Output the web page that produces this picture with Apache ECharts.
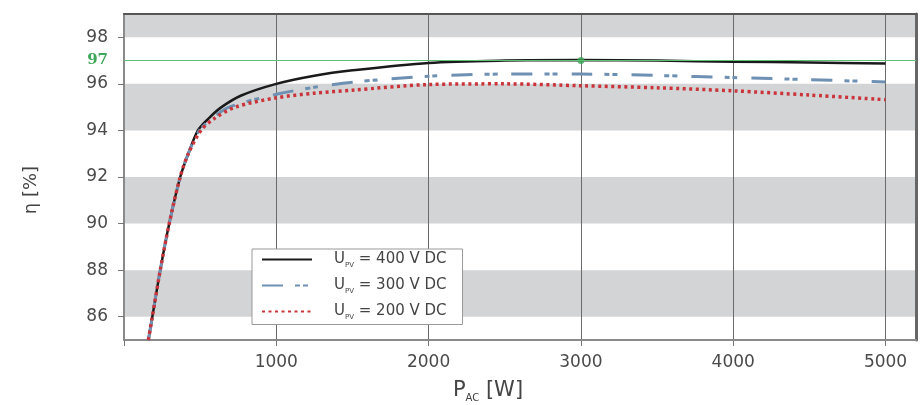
<!DOCTYPE html>
<html>
<head>
<meta charset="utf-8">
<script src="https://cdn.jsdelivr.net/npm/echarts@6/dist/echarts.min.js"></script>
<style>
html,body{margin:0;padding:0;background:#fff;}
#chart{width:924px;height:405px;}
</style>
</head>
<body>
<div id="chart"></div>
<script>
// ---- data ----
const voltages = ['400', '300', '200'];
const power400 = [160, 186, 238, 297, 369, 422, 485, 553, 640, 770, 1000, 1250, 1500, 2000, 2500, 3000, 3500, 4000, 4500, 5000];
const eta400   = [85, 86, 88, 90, 92, 93, 94, 94.5, 95, 95.5, 96, 96.35, 96.58, 96.9, 97.0, 97.02, 97.0, 96.95, 96.92, 96.87];
const power300 = [160, 186, 238, 297, 369, 422, 495, 575, 690, 1000, 1250, 1500, 2000, 2500, 3000, 3500, 4000, 4500, 5000];
const eta300   = [85, 86, 88, 90, 92, 93, 94, 94.5, 95, 95.55, 95.85, 96.07, 96.33, 96.42, 96.42, 96.36, 96.27, 96.18, 96.08];
const power200 = [160, 186, 238, 297, 369, 422, 505, 590, 730, 1000, 1250, 1500, 2000, 2500, 3000, 3500, 4000, 4500, 5000];
const eta200   = [85, 86, 88, 90, 92, 93, 94, 94.5, 95, 95.4, 95.6, 95.73, 95.97, 96.0, 95.92, 95.83, 95.7, 95.52, 95.32];
const grayBands = [[98, 99], [94, 96], [90, 92], [86, 88]];
const refLevel = 97;
const refPoint = [3000, 97];
const yLabels = [86, 88, 90, 92, 94, 96, 97, 98];
const yTicks = [86, 88, 90, 92, 94, 96, 98];
const xLabels = [1000, 2000, 3000, 4000, 5000];
const xTicks = [0, 1000, 2000, 3000, 4000, 5000];

function pairs(xs, ys) { return xs.map((x, i) => [x, ys[i]]); }

const FONT = 'DejaVu Sans';
const chart = echarts.init(document.getElementById('chart'));

const legendRich = {
  u: { fontFamily: FONT, fontSize: 15, color: '#444', lineHeight: 18, padding: [0, 0, 0, 17] },
  s: { fontFamily: FONT, fontSize: 7, color: '#444', lineHeight: 9, verticalAlign: 'bottom' },
  t: { fontFamily: FONT, fontSize: 15, color: '#444', lineHeight: 18 }
};

chart.setOption({
  animation: false,
  backgroundColor: '#fff',
  grid: { left: 124, top: 14, right: 8, bottom: 65, containLabel: false, outerBoundsMode: 'none' },
  legend: {
    orient: 'vertical',
    left: 252, top: 249,
    itemWidth: 50, itemHeight: 14, itemGap: 9.5,
    padding: [3, 16, 4, 9],
    backgroundColor: '#fff',
    borderColor: '#999', borderWidth: 1, borderRadius: 0,
    itemStyle: { opacity: 0 },
    data: voltages.map(v => 'U_PV = ' + v + ' V DC'),
    formatter: name => '{u|U}{s|PV}{t| = ' + name.split('= ')[1] + '}',
    textStyle: { rich: legendRich }
  },
  xAxis: [{
    type: 'value', min: 0, max: 5200, interval: 1000,
    z: 2,
    name: '{p|P}{s|AC}{p| [W]}',
    nameLocation: 'middle', nameGap: 39,
    nameTextStyle: {
      padding: [0, 64, 0, 0],
      rich: {
        p: { fontFamily: FONT, fontSize: 21, color: '#444', lineHeight: 24 },
        s: { fontFamily: FONT, fontSize: 10, color: '#444', lineHeight: 12, verticalAlign: 'bottom' }
      }
    },
    axisLine: { show: true, onZero: false, lineStyle: { color: '#8a8a8a', width: 2 } },
    axisTick: { show: true, length: 6, customValues: xTicks, lineStyle: { color: '#777', width: 1 } },
    axisLabel: { customValues: xLabels, margin: 14, fontFamily: FONT, fontSize: 17, color: '#4a4a4a', formatter: v => String(v) },
    splitLine: { show: true, lineStyle: { color: '#6a6a6a', width: 1 } }
  }, {
    type: 'value', min: 0, max: 5200, position: 'top', z: 2,
    axisLine: { show: true, onZero: false, lineStyle: { color: '#555', width: 2 } },
    axisTick: { show: false }, axisLabel: { show: false }, splitLine: { show: false }
  }],
  yAxis: [{
    type: 'value', min: 85, max: 99,
    z: 2,
    name: 'η [%]',
    nameLocation: 'middle', nameGap: 84, nameRotate: 90,
    nameTextStyle: { fontFamily: FONT, fontSize: 18, color: '#444', padding: [0, 26, 0, 0] },
    axisLine: { show: true, onZero: false, lineStyle: { color: '#8a8a8a', width: 2 } },
    axisTick: { show: true, length: 6, customValues: yTicks, lineStyle: { color: '#777', width: 1 } },
    axisLabel: {
      customValues: yLabels, margin: 16,
      formatter: v => v === refLevel ? '{g|' + v + '}' : '{n|' + v + '}',
      rich: {
        n: { fontFamily: FONT, fontSize: 17, color: '#4a4a4a' },
        g: { fontFamily: 'DejaVu Serif', fontSize: 15, fontWeight: 'bold', color: '#3ea65a' }
      }
    },
    splitLine: { show: false }
  }, {
    type: 'value', min: 85, max: 99, position: 'right', z: 2,
    axisLine: { show: true, onZero: false, lineStyle: { color: '#666', width: 3 } },
    axisTick: { show: false }, axisLabel: { show: false }, splitLine: { show: false }
  }],
  series: [
    {
      type: 'line', data: [], z: 1, silent: true,
      markArea: {
        silent: true,
        itemStyle: { color: '#d3d4d6' },
        data: grayBands.map(b => [{ yAxis: b[0] }, { yAxis: b[1] }])
      },
      markLine: {
        silent: true, symbol: 'none', label: { show: false },
        lineStyle: { color: '#5cbf73', width: 1, type: 'solid' },
        data: [{ yAxis: refLevel }]
      }
    },
    {
      name: 'U_PV = 400 V DC', type: 'line', z: 3, smooth: 0.3, showSymbol: false, symbol: 'none',
      data: pairs(power400, eta400),
      lineStyle: { color: '#1a1a1a', width: 2.5 }, itemStyle: { color: '#1a1a1a' }
    },
    {
      name: 'U_PV = 300 V DC', type: 'line', z: 3, smooth: 0.3, showSymbol: false, symbol: 'none',
      data: pairs(power300, eta300),
      lineStyle: { color: '#6d90b3', width: 3, type: [21, 12, 5, 3, 5, 14] }, itemStyle: { color: '#6d90b3' }
    },
    {
      name: 'U_PV = 200 V DC', type: 'line', z: 3, smooth: 0.3, showSymbol: false, symbol: 'none',
      data: pairs(power200, eta200),
      lineStyle: { color: '#c9353b', width: 3.5, type: [3, 3.5] }, itemStyle: { color: '#c9353b' }
    },
    {
      type: 'scatter', z: 4, silent: true, symbolSize: 7,
      data: [refPoint], itemStyle: { color: '#3aa655' }
    }
  ]
});
</script>
</body>
</html>
